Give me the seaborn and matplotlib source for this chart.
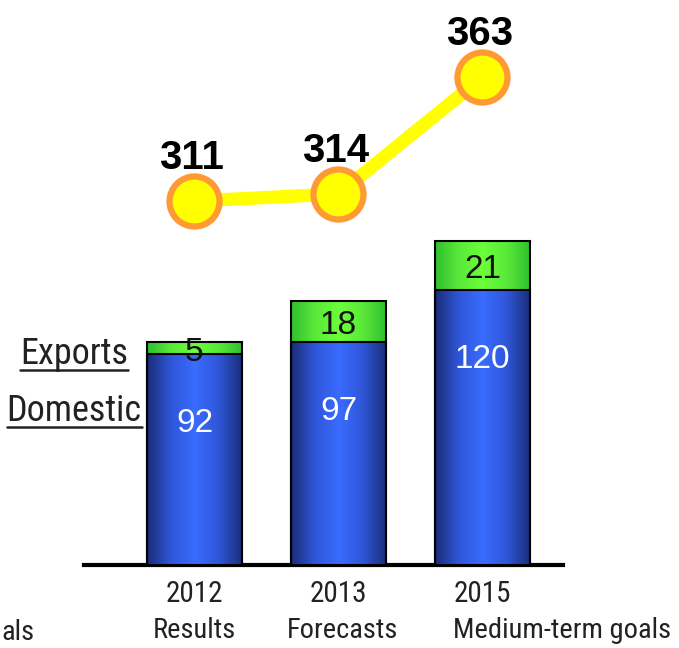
import numpy as np
import pandas as pd
import matplotlib
matplotlib.use("Agg")
import matplotlib.pyplot as plt
import seaborn as sns
from matplotlib.lines import Line2D
from matplotlib.colors import LinearSegmentedColormap

# data
years = ["2012", "2013", "2015"]
stages = ["Results", "Forecasts", "Medium-term goals"]
domestic = [92, 97, 120]
exports = [5, 18, 21]
line_vals = [311, 314, 363]

sns.set_theme(style="white")
plt.rcParams["font.family"] = ["Liberation Sans", "DejaVu Sans"]
narrow = ["Roboto Condensed", "Liberation Sans", "DejaVu Sans"]

df = pd.DataFrame({"year": years, "Domestic": domestic, "Exports": exports})
df["total"] = df["Domestic"] + df["Exports"]

fig = plt.figure(figsize=(6.79, 6.48), dpi=100)
ax = fig.add_axes([84 / 679, 83 / 648, 479 / 679, 565 / 648])

# stacked bars: total (green) behind, domestic (blue) in front
sns.barplot(data=df, x="year", y="total", color="#55ee33", width=0.66,
            edgecolor="black", linewidth=1.5, ax=ax)
sns.barplot(data=df, x="year", y="Domestic", color="#3366ff", width=0.66,
            edgecolor="black", linewidth=1.5, ax=ax)

# horizontal gradient fill on every bar
blue_cm = LinearSegmentedColormap.from_list("b", ["#1b2d78", "#2f56d8", "#3a6cff", "#2f56d8", "#1b2d78"])
green_cm = LinearSegmentedColormap.from_list("g", ["#2ec02e", "#5ae83a", "#6cff3a", "#5ae83a", "#2ec02e"])
grad = np.linspace(0, 1, 256).reshape(1, -1)
for k, p in enumerate(ax.patches):
    cm = green_cm if k < 3 else blue_cm
    z = 1 if k < 3 else 3
    x0, y0, w, h = p.get_x(), p.get_y(), p.get_width(), p.get_height()
    im = ax.imshow(grad, cmap=cm, aspect="auto", extent=(x0, x0 + w, y0, y0 + h),
                   zorder=z, interpolation="bicubic")
    im.set_clip_path(p)
    p.set_facecolor("none")
    p.set_zorder(z + 1)

ax.set_xlim(-0.767, 2.559)
ax.set_ylim(0, 246.2)
ax.set_xlabel("")
ax.set_ylabel("")
ax.set_yticks([])
sns.despine(ax=ax, left=True)
ax.spines["bottom"].set_linewidth(3)
ax.spines["bottom"].set_color("black")
ax.tick_params(axis="x", length=0, pad=11)
ax.set_xticks(range(3))
ax.set_xticklabels(years, fontsize=21, family=narrow, color="#222222")

# value labels
for i in range(3):
    ax.annotate(str(domestic[i]), (i, domestic[i]), xytext=(0, -50), textcoords="offset points",
                ha="center", va="center", color="white", fontsize=24, zorder=10)
    ax.annotate(str(exports[i]), (i, domestic[i] + exports[i] / 2), xytext=(0, -3),
                textcoords="offset points", ha="center", va="center", color="#111111",
                fontsize=24, zorder=10)

# second row of category labels
offs = [0, 3, -21]
aligns = ["center", "center", "left"]
for i in range(3):
    ax.annotate(stages[i], (i, 0), xycoords=("data", "axes fraction"), xytext=(offs[i], -47),
                textcoords="offset points", ha=aligns[i], va="center", fontsize=20.5,
                family=narrow, color="#222222", annotation_clip=False)

# line on a second scale
ax2 = ax.twinx()
sns.lineplot(x=np.arange(3), y=line_vals, color="#ffff00", linewidth=9.5, marker="o",
             markersize=36, markerfacecolor="#ffff00", markeredgecolor="#ff9933",
             markeredgewidth=4.5, ax=ax2, zorder=5)
ax2.set_ylim(158.4, 395.3)
ax2.set_xlim(-0.767, 2.559)
ax2.set_yticks([])
ax2.set_ylabel("")
for s in ax2.spines.values():
    s.set_visible(False)
for i in range(3):
    ax2.annotate(str(line_vals[i]), (i, line_vals[i]), xytext=(-2, 31), textcoords="offset points",
                 ha="center", va="center", fontsize=29, fontweight="bold", color="black",
                 annotation_clip=False)

# side labels
t1 = fig.text(74 / 679, 1 - 354 / 648, "Exports", ha="center", va="center", fontsize=26,
              family=narrow, color="#222222")
t2 = fig.text(74 / 679, 1 - 411 / 648, "Domestic", ha="center", va="center", fontsize=26,
              family=narrow, color="#222222")
fig.text(1 / 679, 1 - 632 / 648, "als", ha="left", va="center", fontsize=20.5,
         family=narrow, color="#222222")

fig.canvas.draw()
r = fig.canvas.get_renderer()
for t in (t1, t2):
    bb = t.get_window_extent(r)
    yy = (bb.y0 + 2) / fig.bbox.height
    fig.add_artist(Line2D([bb.x0 / fig.bbox.width, bb.x1 / fig.bbox.width], [yy, yy],
                          color="#222222", linewidth=1.8))

fig.savefig("out.png", dpi=100)
